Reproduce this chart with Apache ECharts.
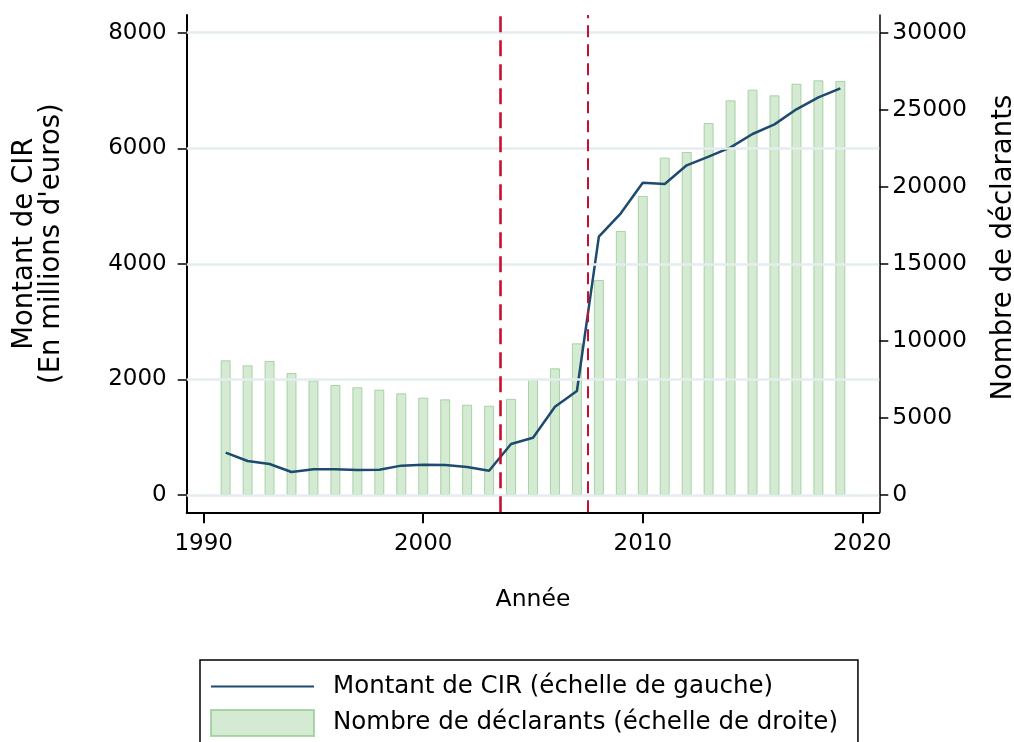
<!DOCTYPE html>
<html>
<head>
<meta charset="utf-8">
<script src="https://cdn.jsdelivr.net/npm/echarts@6/dist/echarts.min.js"></script>
<style>
  html, body { margin: 0; padding: 0; background: #ffffff; }
  #chart { width: 1014px; height: 742px; }
</style>
</head>
<body>
<div id="chart"></div>
<script>
// ---- Data ----
const years = [1991, 1992, 1993, 1994, 1995, 1996, 1997, 1998, 1999, 2000,
               2001, 2002, 2003, 2004, 2005, 2006, 2007, 2008, 2009, 2010,
               2011, 2012, 2013, 2014, 2015, 2016, 2017, 2018, 2019];
// Montant de CIR, en millions d'euros (échelle de gauche)
const cirAmount = [732, 588, 536, 398, 444, 444, 433, 438, 508, 525,
                   519, 485, 421, 883, 992, 1528, 1800, 4470, 4874, 5405,
                   5382, 5705, 5855, 6016, 6247, 6414, 6674, 6882, 7037];
// Nombre de déclarants (échelle de droite)
const declarants = [8741, 8415, 8695, 7917, 7440, 7138, 6987, 6835, 6597, 6316,
                    6207, 5861, 5790, 6240, 7506, 8220, 9842, 13952, 17132, 19403,
                    21892, 22258, 24140, 25610, 26304, 25938, 26691, 26911, 26868];
const xTicks = [1990, 2000, 2010, 2020];
const leftTicks = [0, 2000, 4000, 6000, 8000];
const rightTicks = [0, 5000, 10000, 15000, 20000, 25000, 30000];
const reformYears = [2003.5, 2007.5];

const lineName = 'Montant de CIR (échelle de gauche)';
const barName = 'Nombre de déclarants (échelle de droite)';

const FONT = "'DejaVu Sans', sans-serif";

const lineData = years.map((y, i) => [y, cirAmount[i]]);
const barData = years.map((y, i) => [y, declarants[i]]);

const chart = echarts.init(document.getElementById('chart'), null, { renderer: 'canvas' });

const option = {
  backgroundColor: '#ffffff',
  animation: false,
  textStyle: { fontFamily: FONT, color: '#000' },
  grid: { left: 186.7, right: 134.7, top: 15, bottom: 229.7, outerBoundsMode: 'none', containLabel: false },
  legend: {
    data: [
      { name: lineName, itemStyle: { opacity: 0 } },
      { name: barName, icon: 'rect' }
    ],
    orient: 'vertical',
    left: 200,
    top: 660,
    height: 110,
    itemWidth: 103,
    itemHeight: 26,
    itemGap: 10,
    padding: [14, 20, 12, 10],
    borderColor: '#000',
    borderWidth: 1.5,
    selectedMode: false,
    textStyle: { fontFamily: FONT, fontSize: 24.5, color: '#000', padding: [0, 0, 0, 14] }
  },
  xAxis: {
    type: 'value',
    min: 1989.2255,
    max: 2020.7745,
    name: 'Année',
    nameLocation: 'middle',
    nameGap: 76,
    nameTextStyle: { fontFamily: FONT, fontSize: 23.5, color: '#000' },
    axisLine: { show: true, onZero: false, lineStyle: { color: '#000', width: 2 } },
    axisTick: { show: true, length: 11, customValues: xTicks, lineStyle: { color: '#000', width: 2 } },
    axisLabel: { customValues: xTicks, margin: 20, fontFamily: FONT, fontSize: 23, color: '#000',
                 formatter: v => String(v) },
    splitLine: { show: false }
  },
  yAxis: [
    {
      type: 'value',
      position: 'left',
      min: -299.4,
      max: 8306.3,
      name: 'Montant de CIR\n(En millions d\'euros)',
      nameLocation: 'middle',
      nameRotate: 90,
      nameGap: 121,
      nameTextStyle: { fontFamily: FONT, fontSize: 27.5, color: '#000', lineHeight: 27, align: 'center',
                       padding: [0, 0, 0, 40] },
      axisLine: { show: true, onZero: false, lineStyle: { color: '#000', width: 2 } },
      axisTick: { show: true, length: 9, customValues: leftTicks, lineStyle: { color: '#000', width: 1.5 } },
      axisLabel: { customValues: leftTicks, margin: 20, fontFamily: FONT, fontSize: 23, color: '#000',
                   formatter: v => String(v) },
      splitLine: { show: false }
    },
    {
      type: 'value',
      position: 'right',
      min: -1122.7,
      max: 31148,
      name: 'Nombre de déclarants',
      nameLocation: 'middle',
      nameRotate: 90,
      nameGap: 111,
      nameTextStyle: { fontFamily: FONT, fontSize: 27.5, color: '#000', padding: [0, 0, 0, 32] },
      axisLine: { show: true, onZero: false, lineStyle: { color: '#000', width: 1.5 } },
      axisTick: { show: true, length: 9, customValues: rightTicks, lineStyle: { color: '#000', width: 1.5 } },
      axisLabel: { customValues: rightTicks, margin: 13, fontFamily: FONT, fontSize: 23.5, color: '#000',
                   formatter: v => String(v) },
      splitLine: { show: false }
    }
  ],
  series: [
    {
      // helper series: horizontal gridlines at the left-axis ticks
      name: 'grid',
      type: 'line',
      yAxisIndex: 0,
      data: [],
      z: 1,
      silent: true,
      markLine: {
        silent: true,
        symbol: ['none', 'none'],
        label: { show: false },
        emphasis: { disabled: true },
        lineStyle: { color: '#e4edef', width: 2.5, type: 'solid' },
        data: leftTicks.map(v => ({ yAxis: v }))
      }
    },
    {
      name: barName,
      type: 'bar',
      yAxisIndex: 1,
      data: barData,
      barWidth: 10,
      z: 2,
      itemStyle: {
        color: 'rgba(172,214,168,0.5)',
        borderColor: 'rgba(140,200,135,0.7)',
        borderWidth: 1
      },
      emphasis: { disabled: true }
    },
    {
      name: lineName,
      type: 'line',
      yAxisIndex: 0,
      data: lineData,
      z: 4,
      symbol: 'none',
      showSymbol: false,
      lineStyle: { color: '#1d4a6e', width: 2.5 },
      itemStyle: { color: '#1d4a6e' },
      emphasis: { disabled: true },
      markLine: {
        silent: true,
        symbol: ['none', 'none'],
        label: { show: false },
        emphasis: { disabled: true },
        data: [
          { xAxis: reformYears[0], lineStyle: { color: '#c8102e', width: 2.6, type: [16, 8] } },
          { xAxis: reformYears[1], lineStyle: { color: '#c8102e', width: 2, type: [12, 7] } }
        ]
      }
    }
  ]
};

chart.setOption(option);
</script>
</body>
</html>
